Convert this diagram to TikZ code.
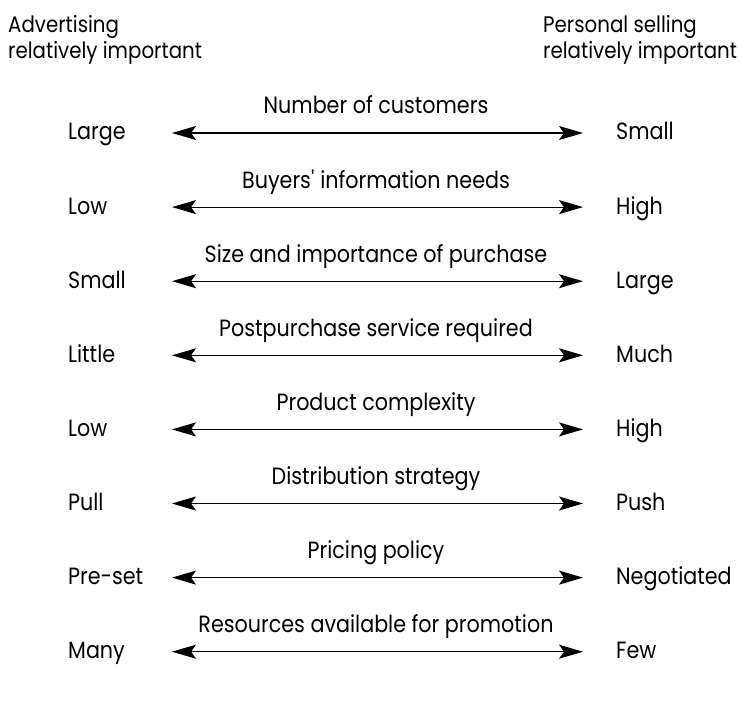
\documentclass[tikz,border=0pt]{standalone}
\usepackage{fontspec}
\setmainfont[FakeStretch=0.88]{Poppins}
\usetikzlibrary{arrows.meta}

\begin{document}
\begin{tikzpicture}
        [x=1pt, y=-1pt, font=\fontsize{23.5}{20}\selectfont,
        head/.style={anchor=base west, inner sep=0pt, font=\fontsize{22.5}{20}\selectfont},
        side/.style={anchor=base west, inner sep=0pt},
        factor/.style={anchor=base, inner sep=0pt},
        link/.style={line width=1.1pt, {Stealth[length=24pt, width=14pt, inset=5pt]}-{Stealth[length=24pt, width=14pt, inset=5pt]}}]

        \useasboundingbox (0,0) rectangle (741,711);

        % column headings
        \node[head] (adv) at (8,33) {Advertising};
        \node[head] (advimp) at (8,59) {relatively important};
        \node[head] (pers) at (543,33) {Personal selling};
        \node[head] (persimp) at (543,59) {relatively important};

        % one row per factor: left end, factor name, right end
        \foreach \i/\lft/\ttl/\rgt in {
            0/Large/Number of customers/Small,
            1/Low/Buyers\textquotesingle{} information needs/High,
            2/Small/Size and importance of purchase/Large,
            3/Little/Postpurchase service required/Much,
            4/Low/Product complexity/High,
            5/Pull/Distribution strategy/Push,
            6/Pre-set/Pricing policy/Negotiated,
            7/Many/Resources available for promotion/Few}
        {
            \pgfmathsetmacro{\ya}{133+74.1*\i}
            \node[side] (l\i) at (68,\ya+7) {\lft};
            \node[side] (r\i) at (616,\ya+7) {\rgt};
            \coordinate (a\i) at (172,\ya);
            \coordinate (b\i) at (583,\ya);
            \draw[link] (a\i) -- (b\i);
            \node[factor] (t\i) at (376,\ya-19) {\ttl};
        }
    \end{tikzpicture}
\end{document}
